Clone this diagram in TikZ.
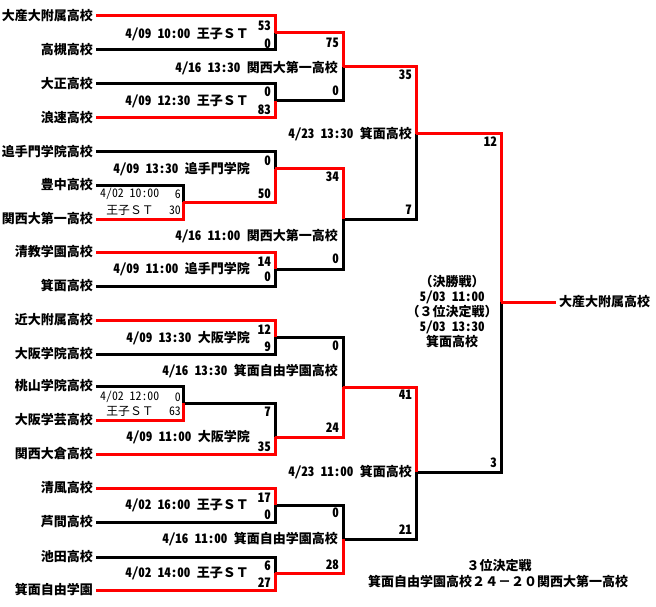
\documentclass[tikz,border=0pt]{standalone}
\usepackage{fontspec}
\newfontfamily\jp{Noto Sans CJK JP}
\newfontfamily\jph{Noto Sans CJK JP}[CharacterWidth=Half]
\newcommand\hw[1]{{\jph #1}}
\tikzset{
  W/.style={line width=3pt, black},
  R/.style={line width=3pt, red},
  team/.style={font=\jp\bfseries\fontsize{13}{15}\selectfont, inner xsep=3pt, inner ysep=0pt},
  sc/.style={font=\jph\bfseries\fontsize{13}{15}\selectfont, inner sep=0pt, anchor=east},
  dl/.style={font=\jp\bfseries\fontsize{13}{15}\selectfont, inner sep=0pt, anchor=east},
  pl/.style={font=\jp\fontsize{11.8}{13}\selectfont, inner sep=0pt},
  info/.style={font=\jp\bfseries\fontsize{13}{15}\selectfont, inner sep=0pt, align=center},
}
\begin{document}
\begin{tikzpicture}[x=1pt,y=-1pt]
\useasboundingbox (0,0) rectangle (656,607);
% teams
\foreach \i/\y/\n in {0/16/大産大附属高校, 1/50/高槻高校, 2/84/大正高校, 3/118/浪速高校,
  4/152/追手門学院高校, 5/185/豊中高校, 6/219/関西大第一高校, 7/252/清教学園高校,
  8/286/箕面高校, 9/320/近大附属高校, 10/354/大阪学院高校, 11/386/桃山学院高校,
  12/420/大阪学芸高校, 13/454/関西大倉高校, 14/488/清風高校, 15/522/芦間高校,
  16/557/池田高校, 17/590/箕面自由学園}
  \node[team, anchor=east] (t\i) at (96,\y) {\n};
% junctions
\coordinate (p1) at (183,202);
\coordinate (p2) at (183,403);
\coordinate (m1) at (275,33);
\coordinate (m2) at (275,101);
\coordinate (m3) at (275,169);
\coordinate (m4) at (275,269);
\coordinate (m5) at (275,337);
\coordinate (m6) at (275,437);
\coordinate (m7) at (275,505);
\coordinate (m8) at (275,573);
\coordinate (q1) at (343,67);
\coordinate (q2) at (343,219);
\coordinate (q3) at (343,387);
\coordinate (q4) at (343,539);
\coordinate (s1) at (416,134);
\coordinate (s2) at (416,472);
\coordinate (f) at (501,302);
\node[team, anchor=west] (win) at (556,302) {大産大附属高校};
% black (losers)
\draw[W] (t1.east) -| (m1);
\draw[W] (t2.east) -| (m2);
\draw[W] (m2) -| (q1);
\draw[W] (t4.east) -| (m3);
\draw[W] (t5.east) -| (p1);
\draw[W] (t8.east) -| (m4);
\draw[W] (m4) -| (q2);
\draw[W] (q2) -| (s1);
\draw[W] (t10.east) -| (m5);
\draw[W] (m5) -| (q3);
\draw[W] (t11.east) -| (p2);
\draw[W] (p2) -| (m6);
\draw[W] (t15.east) -| (m7);
\draw[W] (m7) -| (q4);
\draw[W] (t16.east) -| (m8);
\draw[W] (q4) -| (s2);
\draw[W] (s2) -| (f);
% red (winners)
\draw[R] (t0.east) -| (m1);
\draw[R] (m1) -| (q1);
\draw[R] (q1) -| (s1);
\draw[R] (s1) -| (f);
\draw[R] (f) -- (win.west);
\draw[R] (t3.east) -| (m2);
\draw[R] (t6.east) -| (p1);
\draw[R] (p1) -| (m3);
\draw[R] (m3) -| (q2);
\draw[R] (t7.east) -| (m4);
\draw[R] (t9.east) -| (m5);
\draw[R] (t12.east) -| (p2);
\draw[R] (t13.east) -| (m6);
\draw[R] (m6) -| (q3);
\draw[R] (q3) -| (s2);
\draw[R] (t14.east) -| (m7);
\draw[R] (t17.east) -| (m8);
\draw[R] (m8) -| (q4);
% scores
\foreach \x/\y/\s in {271/26/53, 271/44/0, 271/92/0, 271/110/83, 271/161/0, 271/194/50,
  271/262/14, 271/277/0, 271/330/12, 271/347/9, 271/412/7, 271/447/35,
  271/498/17, 271/515/0, 271/566/6, 271/583/27,
  339/43/75, 339/91/0, 339/177/34, 339/259/0, 339/346/0, 339/428/24, 339/513/0, 339/565/28,
  412/75/35, 412/210/7, 412/395/41, 412/530/21, 497/142/12, 497/463/3}
  \node[sc] at (\x,\y) {\s};
% date labels
\node[dl] (d1) at (249,34) {\hw{4/09 10:00 }王子ＳＴ};
\node[dl] (d2) at (249,101) {\hw{4/09 12:30 }王子ＳＴ};
\node[dl] (d3) at (250,169) {\hw{4/09 13:30 }追手門学院};
\node[dl] (d4) at (250,269) {\hw{4/09 11:00 }追手門学院};
\node[dl] (d5) at (250,338) {\hw{4/09 13:30 }大阪学院};
\node[dl] (d6) at (250,437) {\hw{4/09 11:00 }大阪学院};
\node[dl] (d7) at (249,505) {\hw{4/02 16:00 }王子ＳＴ};
\node[dl] (d8) at (249,573) {\hw{4/02 14:00 }王子ＳＴ};
\node[dl] (e1) at (338,68) {\hw{4/16 13:30 }関西大第一高校};
\node[dl] (e2) at (338,236) {\hw{4/16 11:00 }関西大第一高校};
\node[dl] (e3) at (338,371) {\hw{4/16 13:30 }箕面自由学園高校};
\node[dl] (e4) at (338,539) {\hw{4/16 11:00 }箕面自由学園高校};
\node[dl] (g1) at (412,134) {\hw{4/23 13:30 }箕面高校};
\node[dl] (g2) at (412,472) {\hw{4/23 11:00 }箕面高校};
% preliminary boxes
\node[pl, anchor=west] (pa1) at (100,194) {\hw{4/02 10:00}};
\node[pl, anchor=east] (pa2) at (181,194) {\hw{6}};
\node[pl] (pa3) at (130,210) {王子ＳＴ};
\node[pl, anchor=east] (pa4) at (181,210) {\hw{30}};
\node[pl, anchor=west] (pb1) at (100,397) {\hw{4/02 12:00}};
\node[pl, anchor=east] (pb2) at (181,397) {\hw{0}};
\node[pl] (pb3) at (130,411) {王子ＳＴ};
\node[pl, anchor=east] (pb4) at (181,411) {\hw{63}};
% final info
\node[info] (fi1) at (452,282) {（決勝戦）};
\node[info] (fi2) at (452,297) {\hw{5/03 11:00}};
\node[info] (fi3) at (452,312) {（３位決定戦）};
\node[info] (fi4) at (452,327) {\hw{5/03 13:30}};
\node[info] (fi5) at (452,342) {箕面高校};
\node[info] (th1) at (499,566) {３位決定戦};
\node[info] (th2) at (498,582) {箕面自由学園高校２４－２０関西大第一高校};
\end{tikzpicture}
\end{document}
